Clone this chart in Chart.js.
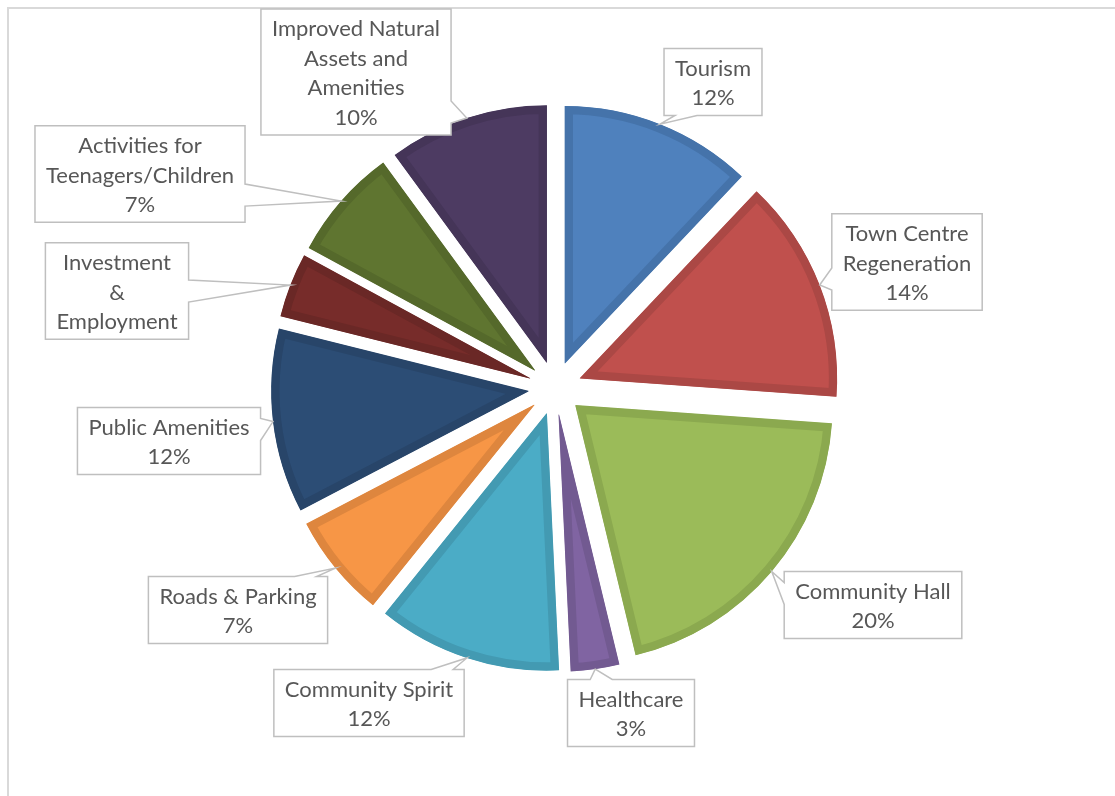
<!DOCTYPE html>
<html>
<head>
<meta charset="utf-8">
<script src="https://cdn.jsdelivr.net/npm/chart.js@4.4.1/dist/chart.umd.min.js"></script>
<style>
  html, body { margin: 0; padding: 0; background: #fff; }
  #wrap { position: relative; width: 1115px; height: 796px; }
</style>
</head>
<body>
<div id="wrap"><canvas id="pie"></canvas></div>
<script>
// slice order, clockwise from 12 o'clock
const CATEGORIES = [
  'Tourism',
  'Town Centre Regeneration',
  'Community Hall',
  'Healthcare',
  'Community Spirit',
  'Roads & Parking',
  'Public Amenities',
  'Investment & Employment',
  'Activities for Teenagers/Children',
  'Improved Natural Assets and Amenities',
];

const SHARES = [12, 14, 20, 3, 11.5, 6.5, 11.5, 4, 7, 10];

// how each label wraps inside its callout
const LABEL_LINES = [
  ['Tourism'],
  ['Town Centre', 'Regeneration'],
  ['Community Hall'],
  ['Healthcare'],
  ['Community Spirit'],
  ['Roads & Parking'],
  ['Public Amenities'],
  ['Investment', '&', 'Employment'],
  ['Activities for', 'Teenagers/Children'],
  ['Improved Natural', 'Assets and', 'Amenities'],
];

// the investment callout shows no percentage in the original
const SHOW_PERCENT = [true, true, true, true, true, true, true, false, true, true];

const FILLS = [
  '#4f81bd', '#c0504d', '#9bbb59', '#8064a2', '#4bacc6',
  '#f79646', '#2c4d75', '#772c2a', '#5f7530', '#4d3b62',
];
const EDGES = [
  '#4573aa', '#ab4845', '#8ba94f', '#725a91', '#439ab2',
  '#de863e', '#284569', '#6a2826', '#55692b', '#453558',
];

// callout box centres, relative to the pie centre
const LABEL_SPOTS = [
  [158, -306], [352, -126], [318, 217], [76, 325], [-186, 315],
  [-317, 222], [-386, 53], [-438, -97], [-415, -214], [-199, -316],
];

const EXPLODE = 27;
const RADIUS = 257;
const FONT = '22px Lato, "Open Sans", sans-serif';
const LINE_H = 29.5;
const TEXT_COLOR = '#575757';
const BOX_STROKE = '#bfbfbf';

const explodePlugin = {
  id: 'explode',
  afterDatasetUpdate(chart, args) {
    for (const arc of args.meta.data) {
      const mid = (arc.startAngle + arc.endAngle) / 2;
      arc.x += Math.cos(mid) * EXPLODE;
      arc.y += Math.sin(mid) * EXPLODE;
    }
  },
};

const framePlugin = {
  id: 'frame',
  beforeDraw(chart) {
    const { ctx, width, height } = chart;
    ctx.save();
    ctx.strokeStyle = '#d9d9d9';
    ctx.lineWidth = 2;
    ctx.beginPath();
    ctx.moveTo(8, height);
    ctx.lineTo(8, 8);
    ctx.lineTo(width, 8);
    ctx.stroke();
    ctx.restore();
  },
};

function calloutPath(ctx, box, tip) {
  const { l, t, r, b } = box;
  const ox = tip.x < l ? l - tip.x : tip.x > r ? tip.x - r : 0;
  const oy = tip.y < t ? t - tip.y : tip.y > b ? tip.y - b : 0;
  let side = null;
  if (ox > 0 || oy > 0) {
    if (ox >= oy) side = tip.x < l ? 'left' : 'right';
    else side = tip.y < t ? 'top' : 'bottom';
  }
  const hw = 11;
  const clamp = (v, lo, hi) => Math.max(lo, Math.min(hi, v));
  let c = 0;
  if (side === 'top' || side === 'bottom') {
    c = clamp(tip.x, l + 16, r - 16);
    c += c < (l + r) / 2 ? 6 : -6;
  } else if (side) {
    c = clamp(tip.y, t + 16, b - 16);
    c += c < (t + b) / 2 ? 6 : -6;
  }
  ctx.beginPath();
  ctx.moveTo(l, t);
  if (side === 'top') {
    ctx.lineTo(c - hw, t); ctx.lineTo(tip.x, tip.y); ctx.lineTo(c + hw, t);
  }
  ctx.lineTo(r, t);
  if (side === 'right') {
    ctx.lineTo(r, c - hw); ctx.lineTo(tip.x, tip.y); ctx.lineTo(r, c + hw);
  }
  ctx.lineTo(r, b);
  if (side === 'bottom') {
    ctx.lineTo(c + hw, b); ctx.lineTo(tip.x, tip.y); ctx.lineTo(c - hw, b);
  }
  ctx.lineTo(l, b);
  if (side === 'left') {
    ctx.lineTo(l, c + hw); ctx.lineTo(tip.x, tip.y); ctx.lineTo(l, c - hw);
  }
  ctx.closePath();
}

const calloutPlugin = {
  id: 'callouts',
  afterDatasetsDraw(chart) {
    const { ctx, chartArea } = chart;
    const meta = chart.getDatasetMeta(0);
    const total = SHARES.reduce((a, v) => a + v, 0);
    const cx = (chartArea.left + chartArea.right) / 2;
    const cy = (chartArea.top + chartArea.bottom) / 2;
    ctx.save();
    ctx.font = FONT;
    ctx.textAlign = 'center';
    ctx.textBaseline = 'middle';
    meta.data.forEach((arc, i) => {
      const lines = LABEL_LINES[i].slice();
      if (SHOW_PERCENT[i]) lines.push(Math.round((SHARES[i] / total) * 100) + '%');
      const textW = Math.max(...lines.map((s) => ctx.measureText(s).width));
      const w = textW + 22;
      const h = lines.length * LINE_H + 8;
      const bx = cx + LABEL_SPOTS[i][0];
      const by = cy + LABEL_SPOTS[i][1];
      const box = { l: bx - w / 2, r: bx + w / 2, t: by - h / 2, b: by + h / 2 };
      const mid = (arc.startAngle + arc.endAngle) / 2;
      const tip = {
        x: arc.x + Math.cos(mid) * arc.outerRadius,
        y: arc.y + Math.sin(mid) * arc.outerRadius,
      };
      calloutPath(ctx, box, tip);
      ctx.fillStyle = '#ffffff';
      ctx.fill();
      ctx.lineWidth = 1.5;
      ctx.strokeStyle = BOX_STROKE;
      ctx.stroke();
      ctx.fillStyle = TEXT_COLOR;
      const y0 = by - (lines.length * LINE_H) / 2 + LINE_H / 2 + 1.5;
      lines.forEach((s, k) => ctx.fillText(s, bx, y0 + k * LINE_H));
    });
    ctx.restore();
  },
};

new Chart(document.getElementById('pie'), {
  type: 'pie',
  data: {
    labels: CATEGORIES,
    datasets: [
      {
        data: SHARES,
        backgroundColor: FILLS,
        borderColor: EDGES,
        borderWidth: 8,
        borderAlign: 'inner',
      },
    ],
  },
  options: {
    responsive: true,
    maintainAspectRatio: false,
    animation: false,
    radius: RADIUS,
    layout: { padding: { left: 0, right: 5, top: 0, bottom: 20 } },
    plugins: {
      legend: { display: false },
      tooltip: { enabled: false },
    },
    events: [],
  },
  plugins: [framePlugin, explodePlugin, calloutPlugin],
});
</script>
</body>
</html>
